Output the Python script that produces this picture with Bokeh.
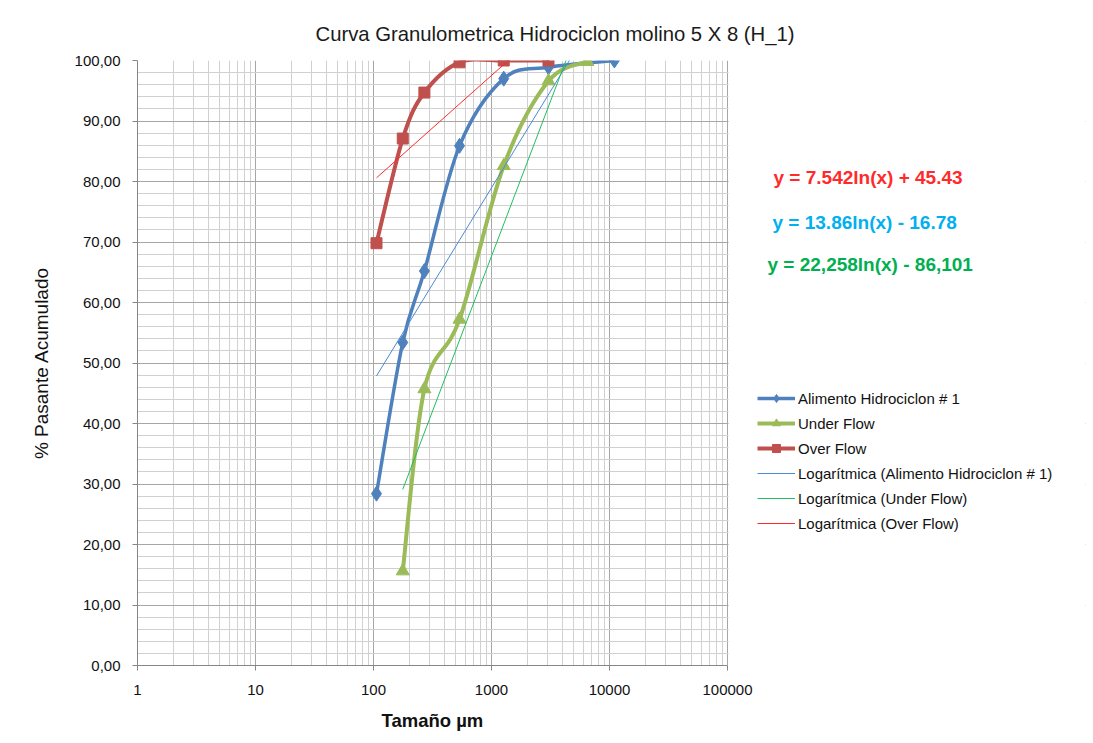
import math
from bokeh.plotting import figure
from bokeh.models import (Range1d, FixedTicker, Legend, LegendItem, Label, BoxAnnotation, Title)
from bokeh.embed import file_html
from bokeh.resources import INLINE

# ---------------- data ----------------
sizes_alim = [106, 177, 270, 536, 1270, 3040, 11000]
alim = [28.4, 53.4, 65.2, 85.9, 97.0, 98.9, 100.0]

sizes_under = [177, 270, 536, 1270, 3040, 6500]
under = [15.6, 45.7, 57.2, 82.6, 96.6, 99.8]

sizes_over = [106, 177, 270, 536, 1270, 3040]
over = [69.8, 87.1, 94.7, 99.7, 100.0, 100.0]

# trend line coefficients (y = a ln(x) + b)
trend_alim = (13.86, -16.78)
trend_under = (22.258, -86.101)
trend_over = (7.542, 45.43)

eq_texts = ["y = 7.542ln(x) + 45.43", "y = 13.86ln(x) - 16.78", "y = 22,258ln(x) - 86,101"]

x_ticks = [1, 10, 100, 1000, 10000, 100000]
x_tick_labels = ["1", "10", "100", "1000", "10000", "100000"]
y_ticks = [0, 10, 20, 30, 40, 50, 60, 70, 80, 90, 100]
y_tick_labels = ["0,00", "10,00", "20,00", "30,00", "40,00", "50,00",
                 "60,00", "70,00", "80,00", "90,00", "100,00"]

names = ["Alimento Hidrociclon # 1", "Under Flow", "Over Flow"]
title_text = "Curva Granulometrica Hidrociclon molino 5 X 8 (H_1)"
x_label = "Tamaño µm"
y_label = "% Pasante Acumulado"

# ---------------- styles / layout ----------------
C_BLUE = "#4f81bd"
C_GREEN = "#9bbb59"
C_RED = "#c0504d"
T_BLUE = "#4a8ad4"
T_GREEN = "#1fbf5f"
T_RED = "#ff2a2a"
FONT = "Liberation Sans"

W, H = 1090, 740
FL, FT, FB, FR = 137, 60, 665, 1085      # frame edges (px)
AXIS_RIGHT_PX = 727                      # where 100000 sits
DEC = (AXIS_RIGHT_PX - FL) / 5.0         # px per decade
X_END = 10 ** ((FR - FL) / DEC)

p = figure(width=W, height=H, x_axis_type="log",
           x_range=Range1d(1, X_END), y_range=Range1d(0, 100),
           output_backend="svg", toolbar_location=None, title=title_text)
p.min_border_left = FL
p.min_border_right = W - FR
p.min_border_top = FT
p.min_border_bottom = H - FB
p.outline_line_color = None
p.background_fill_color = "white"
p.border_fill_color = "white"

p.title.align = "left"
p.title.offset = 178
p.title.standoff = 32
p.title.text_font = FONT
p.title.text_font_style = "normal"
p.title.text_font_size = "20.3px"
p.title.text_color = "#1a1a1a"

minor_x = [m * d for d in [1, 10, 100, 1000, 10000] for m in range(2, 10)]
minor_y = list(range(0, 101, 2))

p.xaxis.ticker = FixedTicker(ticks=x_ticks, minor_ticks=minor_x)
p.yaxis.ticker = FixedTicker(ticks=y_ticks, minor_ticks=minor_y)
p.xaxis.major_label_overrides = {t: l for t, l in zip(x_ticks, x_tick_labels)}
p.yaxis.major_label_overrides = {t: l for t, l in zip(y_ticks, y_tick_labels)}
p.xaxis.bounds = (1, 100000)

for ax in (p.xaxis, p.yaxis):
    ax.axis_line_color = "#868686"
    ax.major_tick_line_color = "#868686"
    ax.major_tick_out = 5
    ax.major_tick_in = 0
    ax.minor_tick_line_color = None
    ax.major_label_text_font = FONT
    ax.major_label_text_font_size = "15px"
    ax.major_label_text_color = "#111111"
    ax.axis_label_text_font = FONT
    ax.axis_label_text_color = "#111111"

p.xaxis.major_label_standoff = 14
p.yaxis.major_label_standoff = 12
p.yaxis.axis_label = y_label
p.yaxis.axis_label_text_font_style = "normal"
p.yaxis.axis_label_text_font_size = "19px"
p.yaxis.axis_label_standoff = 20

# x-axis title placed under the plotting area (not centred on the wide frame)
p.add_layout(Title(text=x_label, align="left", offset=244, standoff=20,
                   text_font=FONT, text_font_style="bold",
                   text_font_size="18.5px", text_color="#111111"), "below")

p.xgrid.grid_line_color = "#a6a6a6"
p.ygrid.grid_line_color = "#a6a6a6"
p.xgrid.minor_grid_line_color = "#d0d0d0"
p.ygrid.minor_grid_line_color = "#d0d0d0"

# white mask to the right of the plotting area (keeps legend/labels unclipped)
p.add_layout(BoxAnnotation(left=100000 * 1.02, fill_color="white", fill_alpha=1.0,
                           line_color=None, level="underlay"))


def smooth_segments(xs, ys):
    """Excel-like smoothing: cubic Bezier control points in (log x, y) space."""
    u = [math.log10(v) for v in xs]
    n = len(u)
    out = dict(x0=[], y0=[], x1=[], y1=[], cx0=[], cy0=[], cx1=[], cy1=[])
    for i in range(n - 1):
        a = i - 1 if i > 0 else i
        d = i + 2 if i + 2 < n else i + 1
        c1u = u[i] + (u[i + 1] - u[a]) / 6.0
        c1y = ys[i] + (ys[i + 1] - ys[a]) / 6.0
        c2u = u[i + 1] - (u[d] - u[i]) / 6.0
        c2y = ys[i + 1] - (ys[d] - ys[i]) / 6.0
        out["x0"].append(xs[i]); out["y0"].append(ys[i])
        out["x1"].append(xs[i + 1]); out["y1"].append(ys[i + 1])
        out["cx0"].append(10 ** c1u); out["cy0"].append(c1y)
        out["cx1"].append(10 ** c2u); out["cy1"].append(c2y)
    return out


series = [
    (sizes_alim, alim, C_BLUE, "diamond", 15, 3.5),
    (sizes_under, under, C_GREEN, "triangle", 13, 4),
    (sizes_over, over, C_RED, "square", 11, 4),
]

items = []
for (xs, ys, col, mk, sz, lw), nm in zip(series, names):
    seg = smooth_segments(xs, ys)
    bz = p.bezier(line_color=col, line_width=lw, **seg)
    sc = p.scatter(xs, ys, marker=mk, size=sz, fill_color=col, line_color=col)
    items.append(LegendItem(label=nm, renderers=[bz, sc]))

trends = [(sizes_alim, trend_alim, T_BLUE), (sizes_under, trend_under, T_GREEN),
          (sizes_over, trend_over, T_RED)]
titems = []
for (xs, (a, b), col), nm in zip(trends, names):
    xe = [xs[0], xs[-1]]
    ye = [a * math.log(v) + b for v in xe]
    r = p.line(xe, ye, line_color=col, line_width=1)
    titems.append(LegendItem(label="Logarítmica (" + nm + ")", renderers=[r]))

legend = Legend(items=items + titems, location=(620, 132),
                label_text_font=FONT, label_text_font_size="15px",
                label_text_color="#111111", background_fill_alpha=0,
                border_line_color=None, glyph_width=38, glyph_height=20,
                label_height=20, spacing=5, padding=0, margin=0,
                label_standoff=3)
p.add_layout(legend, "center")


def data_x(px):
    return 10 ** ((px - FL) / DEC)


def data_y(py):
    return (FB - py) / ((FB - FT) / 100.0)


eq_cols = [T_RED, "#00b0f0", "#00b050"]
eq_px = [(773, 177), (772, 222), (767, 264)]
for t, c, (px, py) in zip(eq_texts, eq_cols, eq_px):
    p.add_layout(Label(x=data_x(px), y=data_y(py), text=t, text_color=c,
                       text_font=FONT, text_font_style="bold",
                       text_font_size="19px", text_baseline="middle"))

open("out.html", "w").write(file_html(p, INLINE))
